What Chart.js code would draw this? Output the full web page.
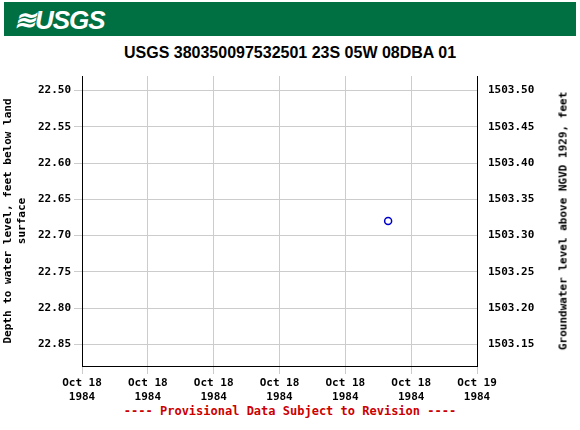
<!DOCTYPE html>
<html>
<head>
<meta charset="utf-8">
<script src="https://cdn.jsdelivr.net/npm/chart.js@4"></script>
<style>
  body { margin: 0; width: 580px; height: 430px; position: relative; background: #fff; overflow: hidden; }
  #banner { position: absolute; left: 4px; top: 2px; width: 572px; height: 34px; background: #006f41; }
  #logo { position: absolute; left: 10px; top: 3px; color: #fff; font: bold italic 26px "Liberation Sans", sans-serif; letter-spacing: -1px; }
  #title { position: absolute; left: 0; width: 580px; top: 44px; text-align: center; font: bold 16px "Liberation Sans", Arial, sans-serif; color: #000; }
  #footer { position: absolute; left: 0; width: 580px; top: 404px; text-align: center; font: bold 12px "DejaVu Sans Mono", monospace; color: #cc0000; }
  #rtitle { position: absolute; left: 563px; top: 221px; width: 0; height: 0; }
  #rtitle span { position: absolute; white-space: nowrap; transform: translate(-50%, -50%) rotate(-90deg); font: bold 11px "DejaVu Sans Mono", monospace; color: #000; }
  canvas { position: absolute; left: 0; top: 0; }
</style>
</head>
<body>
<div id="banner"><div id="logo">≋USGS</div></div>
<div id="title">USGS 380350097532501 23S 05W 08DBA 01</div>
<div id="footer">---- Provisional Data Subject to Revision ----</div>
<canvas id="chart" width="580" height="430"></canvas>
<div id="rtitle"><span>Groundwater level above NGVD 1929, feet</span></div>
<script>
var xTickLabels = [['Oct 18', '1984'], ['Oct 18', '1984'], ['Oct 18', '1984'], ['Oct 18', '1984'], ['Oct 18', '1984'], ['Oct 18', '1984'], ['Oct 19', '1984']];
var pointTimes = [4.65];
var depthValues = [22.68];
var datumOffset = 1526.0;

var tickFont = { family: 'DejaVu Sans Mono', size: 11, weight: 'bold' };

var ctx = document.getElementById('chart').getContext('2d');
var chart = new Chart(ctx, {
  type: 'scatter',
  data: {
    datasets: [{
      data: pointTimes.map((t, i) => ({ x: t, y: depthValues[i] })),
      borderColor: '#0000cc',
      backgroundColor: 'rgba(0,0,0,0)',
      borderWidth: 1.5,
      pointRadius: 3.5
    }]
  },
  options: {
    responsive: false,
    animation: false,
    layout: { padding: { top: 76, bottom: 28 } },
    plugins: { legend: { display: false }, tooltip: { enabled: false } },
    scales: {
      x: {
        type: 'linear', min: 0, max: 6,
        ticks: { stepSize: 1, color: '#000', font: tickFont, maxRotation: 0, callback: v => xTickLabels[v] },
        grid: { color: '#cccccc' },
        border: { color: '#000' },
        afterFit: s => { s.height = 36; }
      },
      y: {
        position: 'left', reverse: true, min: 22.48, max: 22.88,
        ticks: { color: '#000', font: tickFont, callback: v => v.toFixed(2) },
        afterBuildTicks: s => { s.ticks = [22.5, 22.55, 22.6, 22.65, 22.7, 22.75, 22.8, 22.85].map(v => ({ value: v })); },
        title: { display: true, text: ['Depth to water level, feet below land', 'surface'], color: '#000', font: tickFont, padding: 2 },
        grid: { color: '#cccccc' },
        border: { color: '#000' },
        afterFit: s => { s.width = 82; }
      },
      y2: {
        position: 'right', min: datumOffset - 22.88, max: datumOffset - 22.48,
        ticks: { color: '#000', font: tickFont, callback: v => v.toFixed(2) },
        afterBuildTicks: s => { s.ticks = [1503.15, 1503.2, 1503.25, 1503.3, 1503.35, 1503.4, 1503.45, 1503.5].map(v => ({ value: v })); },
        grid: { display: false },
        border: { color: '#000' },
        afterFit: s => { s.width = 103; }
      }
    }
  }
});
</script>
</body>
</html>
